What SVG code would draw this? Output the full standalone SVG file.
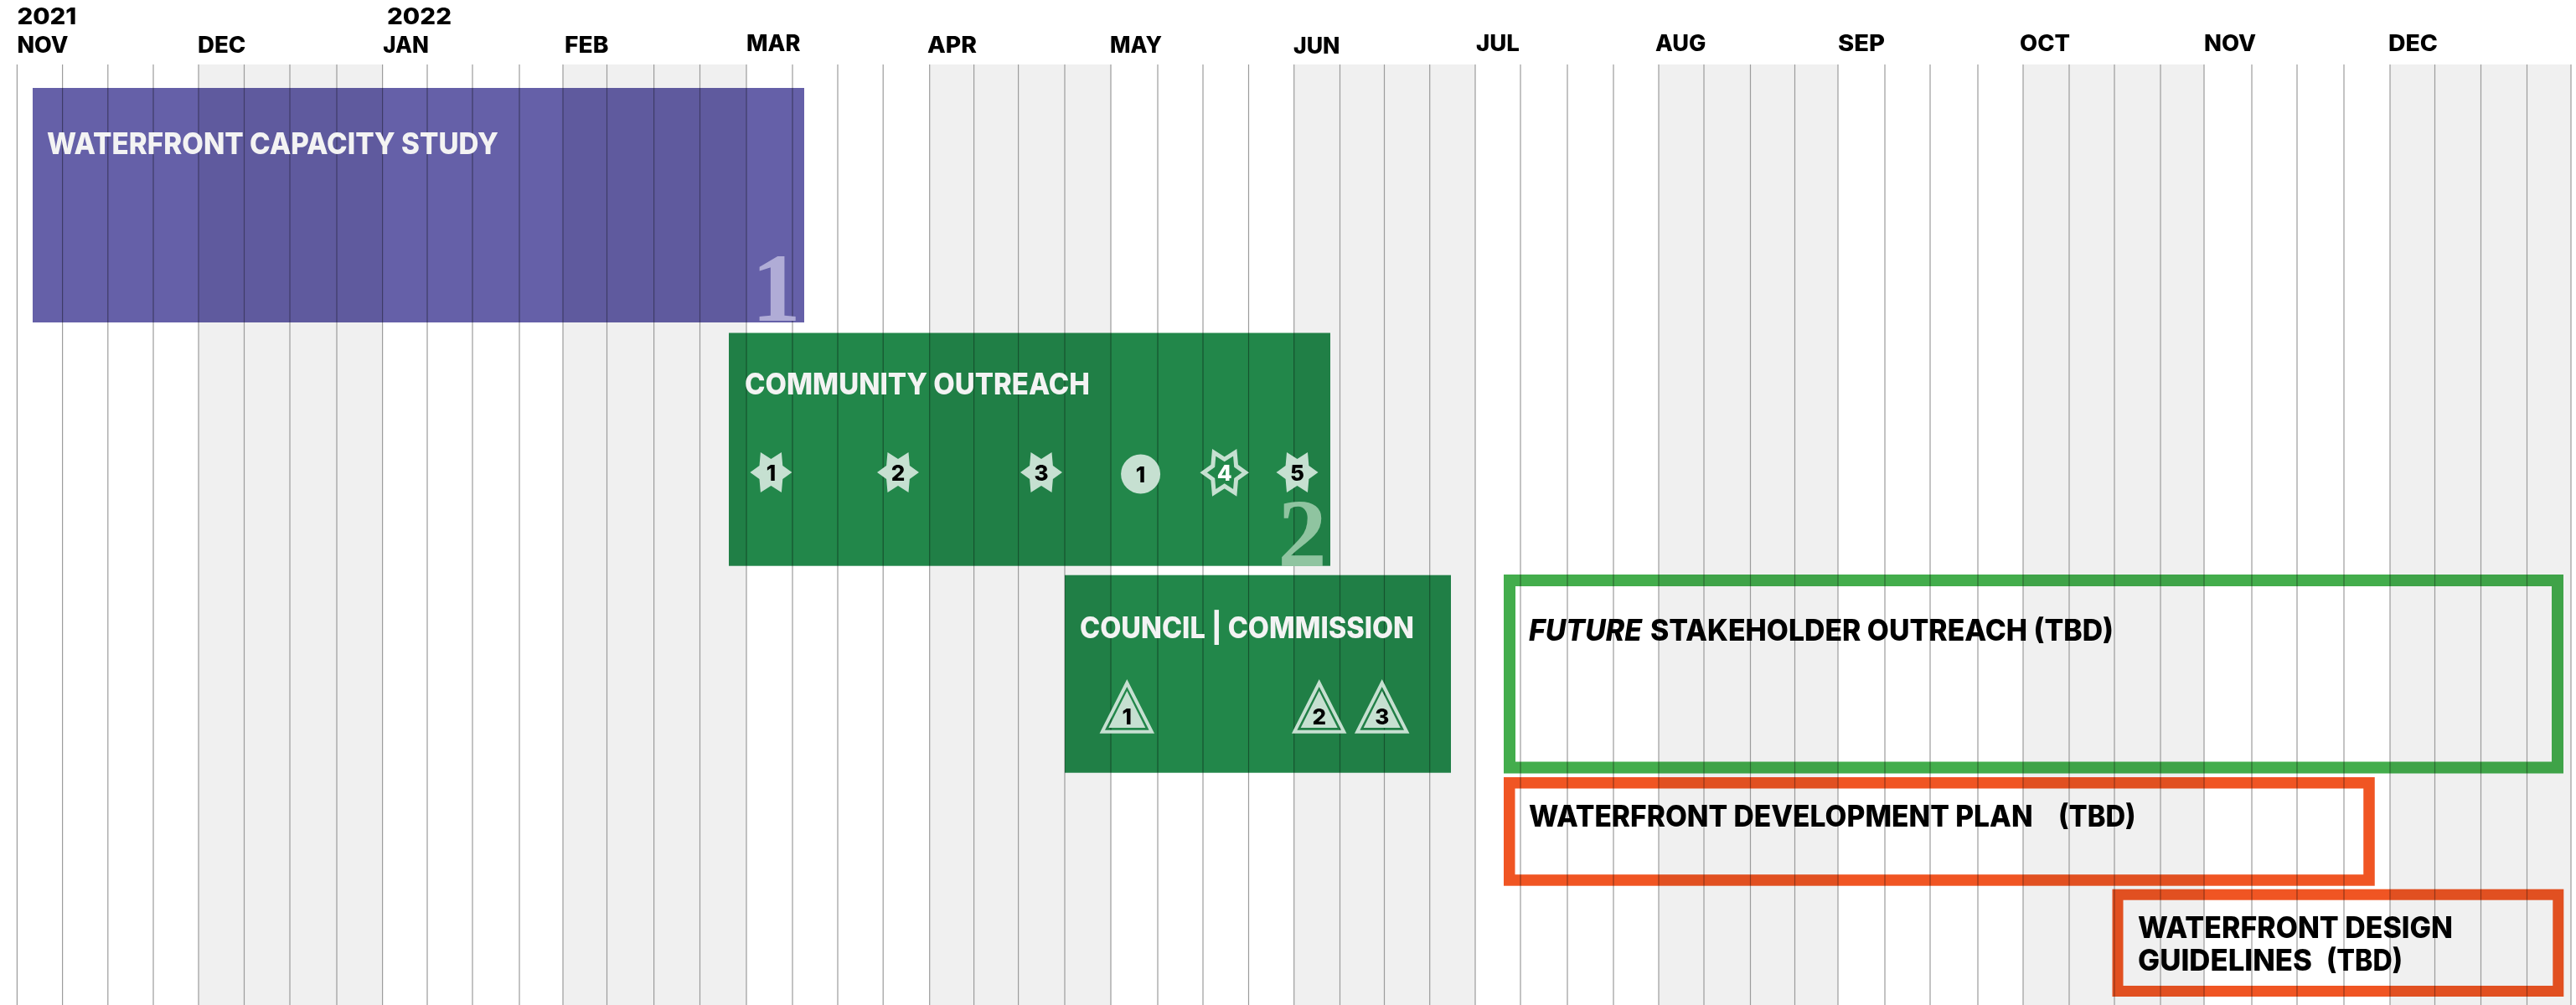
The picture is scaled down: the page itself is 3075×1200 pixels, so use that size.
<svg xmlns="http://www.w3.org/2000/svg" xmlns:xlink="http://www.w3.org/1999/xlink" width="3075" height="1200" viewBox="0 0 3075 1200">
<style>
.bg{fill:#ffffff}
.shade{fill:#f0f0f0}
.grid{stroke:#9c9c9c;stroke-width:1.2;fill:none}
.hdr{font-family:Inter,"Liberation Sans",Arial,sans-serif;font-weight:800;font-size:26.5px;fill:#000}
.blend{mix-blend-mode:multiply}
.title{font-family:Inter,"Liberation Sans",Arial,sans-serif;font-weight:800;font-size:35px}
.wt{fill:#f3f3f3}
.bk{fill:#000}
.big{font-family:"Liberation Serif","Times New Roman",serif;font-weight:bold;font-size:117px;text-anchor:middle}
.mk{fill:#c6e0d1}
.mkt{font-family:Inter,"Liberation Sans",Arial,sans-serif;font-weight:800;font-size:26px;text-anchor:middle;fill:#000}
.trio{fill:none;stroke:#c6e0d1;stroke-width:4;stroke-linejoin:miter}
.staro{fill:none;stroke:#c6e0d1;stroke-width:5;stroke-linejoin:miter;stroke-miterlimit:10}
</style>
<defs>
<polygon id="star" points="25,0 13.9,-8 12.5,-24 0,-16 -12.5,-24 -13.9,-8 -25,0 -13.9,8 -12.5,24 0,16 12.5,24 13.9,8"/>
<g id="tri">
<path class="trio" d="M0,815.5 L29.5,873.7 L-29.5,873.7 Z"/>
<path class="mk" d="M0,825 L22,869 L-22,869 Z"/>
</g>
</defs>
<rect class="bg" x="0" y="0" width="3075" height="1200"/>
<g id="grid">
<rect class="shade" x="237" y="77" width="219.6" height="1123"/>
<rect class="shade" x="672" y="77" width="219" height="1123"/>
<rect class="shade" x="1109.7" y="77" width="216.3" height="1123"/>
<rect class="shade" x="1544.7" y="77" width="216.3" height="1123"/>
<rect class="shade" x="1980" y="77" width="214" height="1123"/>
<rect class="shade" x="2415" y="77" width="216" height="1123"/>
<rect class="shade" x="2853" y="77" width="216" height="1123"/>
<path class="grid" d="M20.4,77V1200M74.6,77V1200M128.8,77V1200M183,77V1200M237,77V1200M291.5,77V1200M346,77V1200M402,77V1200M456.6,77V1200M510,77V1200M564,77V1200M620,77V1200M672,77V1200M724.5,77V1200M780.6,77V1200M835.5,77V1200M891,77V1200M946,77V1200M1000,77V1200M1054.2,77V1200M1109.7,77V1200M1162.6,77V1200M1215.6,77V1200M1271,77V1200M1326,77V1200M1382,77V1200M1436,77V1200M1490.5,77V1200M1544.7,77V1200M1599.5,77V1200M1652.5,77V1200M1706.7,77V1200M1761,77V1200M1815,77V1200M1871,77V1200M1926,77V1200M1980,77V1200M2034,77V1200M2089.5,77V1200M2142.5,77V1200M2194,77V1200M2250,77V1200M2304,77V1200M2361,77V1200M2415,77V1200M2470,77V1200M2524,77V1200M2579,77V1200M2631,77V1200M2688,77V1200M2742,77V1200M2798,77V1200M2853,77V1200M2906.5,77V1200M2961.5,77V1200M3016.5,77V1200M3069,77V1200"/>
</g>
<g id="header">
<text class="hdr" x="20.4" y="29" textLength="71" lengthAdjust="spacingAndGlyphs">2021</text>
<text class="hdr" x="462" y="29" textLength="77" lengthAdjust="spacingAndGlyphs">2022</text>
<text class="hdr" x="20.4" y="63" textLength="61" lengthAdjust="spacingAndGlyphs">NOV</text>
<text class="hdr" x="236" y="63" textLength="57.4" lengthAdjust="spacingAndGlyphs">DEC</text>
<text class="hdr" x="457.3" y="63" textLength="54.7" lengthAdjust="spacingAndGlyphs">JAN</text>
<text class="hdr" x="674" y="63" textLength="52.4" lengthAdjust="spacingAndGlyphs">FEB</text>
<text class="hdr" x="891" y="61" textLength="64.4" lengthAdjust="spacingAndGlyphs">MAR</text>
<text class="hdr" x="1107" y="63" textLength="59" lengthAdjust="spacingAndGlyphs">APR</text>
<text class="hdr" x="1325" y="63" textLength="62" lengthAdjust="spacingAndGlyphs">MAY</text>
<text class="hdr" x="1544" y="64" textLength="55.5" lengthAdjust="spacingAndGlyphs">JUN</text>
<text class="hdr" x="1762" y="61" textLength="52" lengthAdjust="spacingAndGlyphs">JUL</text>
<text class="hdr" x="1976" y="61" textLength="60.5" lengthAdjust="spacingAndGlyphs">AUG</text>
<text class="hdr" x="2194" y="61" textLength="56" lengthAdjust="spacingAndGlyphs">SEP</text>
<text class="hdr" x="2411" y="61" textLength="60" lengthAdjust="spacingAndGlyphs">OCT</text>
<text class="hdr" x="2631" y="61" textLength="62" lengthAdjust="spacingAndGlyphs">NOV</text>
<text class="hdr" x="2851" y="61" textLength="59" lengthAdjust="spacingAndGlyphs">DEC</text>
</g>
<g id="node-capacity-study">
<rect class="blend" x="39" y="105" width="921" height="280" fill="#6560a8"/>
<text class="title wt" x="56" y="184" textLength="539" lengthAdjust="spacingAndGlyphs">WATERFRONT CAPACITY STUDY</text>
<text class="big" x="926.5" y="383" fill="#b0acd6">1</text>
</g>
<g id="node-community-outreach">
<rect class="blend" x="870" y="397.5" width="718" height="278.2" fill="#22874a"/>
<text class="title wt" x="889" y="471" textLength="412" lengthAdjust="spacingAndGlyphs">COMMUNITY OUTREACH</text>
<use href="#star" xlink:href="#star" x="920.4" y="564" class="mk"/>
<text class="mkt" x="920.4" y="574">1</text>
<use href="#star" xlink:href="#star" x="1072" y="564" class="mk"/>
<text class="mkt" x="1072" y="574">2</text>
<use href="#star" xlink:href="#star" x="1243" y="564" class="mk"/>
<text class="mkt" x="1243" y="574">3</text>
<circle class="mk" cx="1361.6" cy="566" r="23.5"/>
<text class="mkt" x="1361.6" y="576">1</text>
<use href="#star" xlink:href="#star" x="1461.7" y="564.3" class="staro"/>
<text class="mkt" x="1461.7" y="574" style="fill:#ffffff">4</text>
<use href="#star" xlink:href="#star" x="1548.5" y="564" class="mk"/>
<text class="mkt" x="1548.5" y="574">5</text>
<text class="big" x="1554.5" y="676" fill="#8fc4a0">2</text>
</g>
<g id="node-council-commission">
<rect class="blend" x="1271" y="686.7" width="461" height="236" fill="#22874a"/>
<text class="title wt" x="1289" y="762" textLength="399" lengthAdjust="spacingAndGlyphs">COUNCIL | COMMISSION</text>
<use href="#tri" xlink:href="#tri" x="1345.3" y="0"/>
<text class="mkt" x="1345.3" y="865">1</text>
<use href="#tri" xlink:href="#tri" x="1574.7" y="0"/>
<text class="mkt" x="1574.7" y="865">2</text>
<use href="#tri" xlink:href="#tri" x="1649.7" y="0"/>
<text class="mkt" x="1649.7" y="865">3</text>
</g>
<g id="node-future-stakeholder-outreach">
<rect class="blend" x="1802" y="693" width="1251" height="223.5" fill="none" stroke="#43ad4c" stroke-width="14"/>
<text class="title bk" x="1825" y="765" font-style="italic" textLength="135" lengthAdjust="spacingAndGlyphs">FUTURE</text>
<text class="title bk" x="1970" y="765" textLength="553" lengthAdjust="spacingAndGlyphs">STAKEHOLDER OUTREACH (TBD)</text>
</g>
<g id="node-development-plan">
<rect class="blend" x="1801.75" y="934.75" width="1026.25" height="116.2" fill="none" stroke="#f05523" stroke-width="13.5"/>
<text class="title bk" x="1825" y="987" textLength="601.6" lengthAdjust="spacingAndGlyphs">WATERFRONT DEVELOPMENT PLAN</text>
<text class="title bk" x="2457" y="987" textLength="92.6" lengthAdjust="spacingAndGlyphs">(TBD)</text>
</g>
<g id="node-design-guidelines">
<rect class="blend" x="2528" y="1068.2" width="525.8" height="115.3" fill="none" stroke="#f05523" stroke-width="13"/>
<text class="title bk" x="2552" y="1120" textLength="376" lengthAdjust="spacingAndGlyphs">WATERFRONT DESIGN</text>
<text class="title bk" x="2552" y="1159" textLength="208" lengthAdjust="spacingAndGlyphs">GUIDELINES</text>
<text class="title bk" x="2777" y="1159" textLength="91" lengthAdjust="spacingAndGlyphs">(TBD)</text>
</g>
<g id="connectors"/>
</svg>
